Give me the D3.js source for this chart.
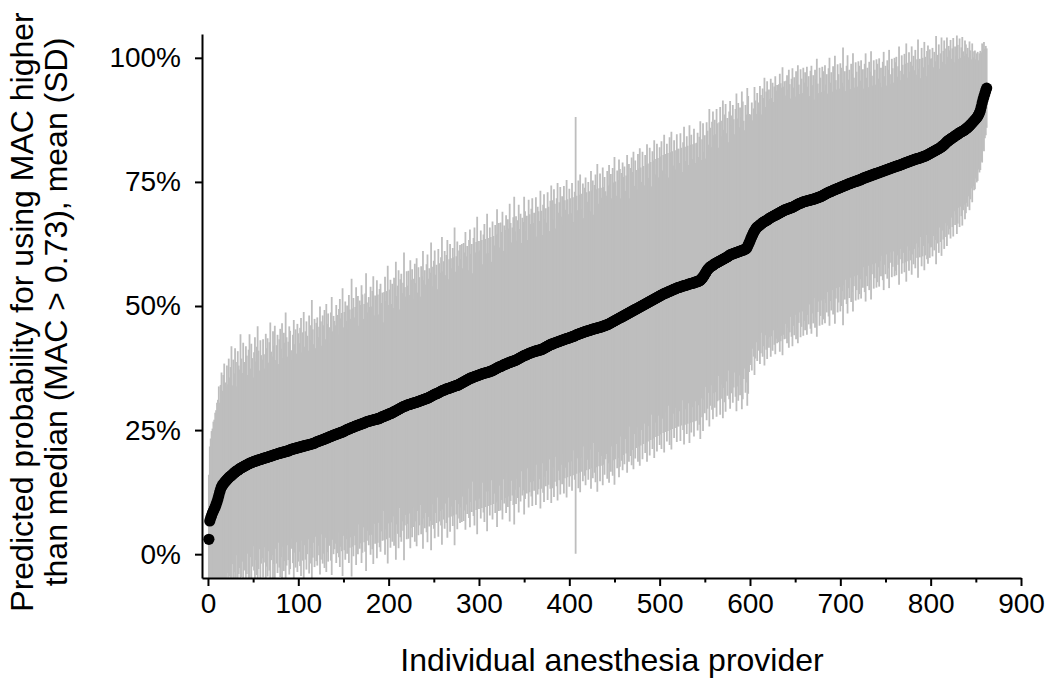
<!DOCTYPE html>
<html><head><meta charset="utf-8">
<script src="https://cdn.jsdelivr.net/npm/d3@7"></script>
<style>body{margin:0;background:#fff} text{font-family:Arial,"Liberation Sans",sans-serif;fill:#000}</style>
</head><body><svg id="c" width="1050" height="679"></svg>
<script>
// Mean predicted probability (%) for each provider, sorted ascending (providers 1..862)
const meanPct = [
3.0,6.7,7.3,7.8,8.3,8.7,9.1,9.5,10.0,10.5,11.1,11.8,12.5,13.1,13.6,13.9,14.1,14.4,14.6,14.8,
15.0,15.2,15.4,15.6,15.7,15.9,16.0,16.2,
16.4,16.5,16.7,16.8,16.9,17.0,17.2,
17.3,17.4,17.5,17.6,17.7,17.8,17.9,18.0,18.1,18.2,18.3,18.4,18.4,18.5,18.6,
18.7,18.7,18.8,18.8,18.9,19.0,19.0,19.1,19.1,19.2,19.3,19.3,19.4,19.4,19.5,19.5,19.6,19.7,19.7,19.8,
19.8,19.9,20.0,20.0,20.1,20.1,20.2,20.3,20.3,20.4,20.4,20.5,20.5,20.6,20.6,20.7,20.7,20.8,20.8,20.9,21.0,
21.1,21.1,21.2,21.2,21.3,21.3,21.4,21.4,21.5,21.5,21.6,21.6,21.7,21.7,21.8,21.8,21.9,21.9,22.0,22.0,22.1,22.1,22.2,22.2,22.3,22.3,22.4,22.5,22.6,
22.7,22.7,22.8,22.9,22.9,23.0,23.1,23.1,23.2,23.3,23.4,23.4,23.5,23.6,23.7,23.7,23.8,23.9,24.0,24.0,24.1,24.2,24.2,24.3,24.4,24.4,24.5,24.6,24.6,24.7,
24.8,24.9,25.0,25.1,25.2,25.2,25.3,25.4,25.5,25.5,25.6,25.7,25.8,25.8,25.9,26.0,26.0,26.1,26.2,26.2,26.3,26.4,26.4,26.5,26.6,26.7,
26.7,26.8,26.8,26.9,26.9,27.0,27.0,27.1,27.1,27.2,27.2,27.3,27.3,27.4,
27.5,27.6,27.7,27.7,27.8,27.9,28.0,28.0,28.1,28.2,28.3,28.3,28.4,28.5,28.6,28.7,28.8,28.9,29.0,
29.1,29.2,29.3,29.4,29.5,29.6,29.7,29.8,29.8,29.9,30.0,
30.1,30.1,30.2,30.2,30.3,30.4,30.4,30.5,30.5,30.6,30.6,30.7,30.8,30.8,30.9,31.0,31.0,31.1,31.2,31.2,31.3,31.4,31.4,31.5,31.6,31.7,31.8,31.9,32.0,
32.1,32.2,32.3,32.3,32.4,32.5,32.6,32.7,32.8,32.9,33.0,33.0,33.1,33.2,33.3,33.3,33.4,33.4,33.5,33.6,33.6,33.7,33.8,33.8,33.9,34.0,34.0,34.1,34.2,34.3,34.4,34.5,34.6,34.7,
34.8,34.9,35.0,35.1,35.2,35.3,35.4,35.5,35.5,35.6,35.7,35.8,35.8,35.9,36.0,36.0,36.1,36.2,36.2,36.3,36.4,36.4,36.5,36.5,36.6,36.6,36.7,36.7,36.8,36.9,36.9,37.0,37.1,
37.2,37.3,37.4,37.5,37.6,37.7,37.8,37.8,37.9,38.0,38.1,38.2,38.3,38.3,38.4,38.5,38.6,38.6,38.7,38.8,38.8,38.9,39.0,39.0,39.1,39.2,39.3,39.4,39.5,
39.6,39.7,39.8,39.9,40.0,40.1,40.1,40.2,40.3,40.4,40.5,40.5,40.6,40.7,40.7,40.8,40.9,40.9,41.0,41.0,41.1,41.1,41.2,41.2,41.3,41.4,41.5,41.6,41.7,41.8,
41.9,42.0,42.1,42.2,42.3,42.3,42.4,42.5,42.6,42.6,42.7,42.8,42.8,42.9,43.0,43.0,43.1,43.2,43.2,43.3,43.4,43.4,43.5,43.5,43.6,43.7,43.7,43.8,43.9,43.9,44.0,44.1,44.2,
44.3,44.3,44.4,44.5,44.5,44.6,44.7,44.7,44.8,44.9,44.9,45.0,45.0,45.1,45.1,45.2,45.3,45.3,45.4,45.4,45.5,45.5,45.6,45.6,45.7,45.7,45.8,45.8,45.9,46.0,46.0,46.1,46.2,46.2,46.3,46.4,46.5,
46.6,46.7,46.8,46.9,47.0,47.1,47.2,47.3,47.4,47.5,47.6,47.7,47.8,47.9,48.0,48.1,48.2,48.3,48.4,48.5,48.6,48.7,48.8,48.9,49.0,49.1,49.2,49.3,49.4,49.5,49.6,49.7,49.8,49.9,50.0,50.1,50.2,
50.3,50.4,50.5,50.6,50.7,50.8,50.9,51.0,51.1,51.2,51.3,51.4,51.5,51.6,51.7,51.8,51.9,52.0,52.1,52.2,52.3,52.4,52.5,52.6,52.6,52.7,52.8,52.9,53.0,53.0,53.1,53.2,53.3,53.4,53.4,53.5,53.6,
53.7,53.7,53.8,53.8,53.9,54.0,54.0,54.1,54.1,54.2,54.2,54.3,54.4,54.4,54.5,54.5,54.6,54.6,54.7,54.8,54.8,54.9,54.9,55.0,55.1,55.2,
55.4,55.6,55.8,56.1,56.4,56.7,57.0,57.3,57.5,57.7,57.9,
58.0,58.1,58.2,58.4,58.5,58.6,58.7,58.8,58.9,59.0,59.1,59.2,59.3,59.4,59.5,59.6,59.7,59.8,59.9,60.0,60.2,60.3,
60.4,60.4,60.5,60.6,60.6,60.7,60.8,60.8,60.9,61.0,61.0,61.1,61.2,61.2,61.3,61.4,61.5,61.6,
61.9,62.3,62.7,63.1,63.6,64.0,64.4,64.8,65.1,65.4,65.7,
65.9,66.0,66.2,66.3,66.5,66.6,66.8,66.9,67.0,67.1,67.2,67.3,67.4,67.6,67.7,
67.8,67.9,68.0,68.1,68.2,68.3,68.4,68.5,68.6,68.7,68.8,68.9,69.0,69.1,69.2,69.3,69.4,69.4,69.5,69.6,69.6,69.7,69.8,69.8,69.9,70.0,
70.1,70.2,70.3,70.4,70.5,70.6,70.7,70.7,70.8,70.9,71.0,71.0,71.1,71.1,71.2,71.2,71.3,71.3,71.4,71.4,71.5,71.5,71.6,71.6,71.7,71.8,71.8,71.9,72.0,72.0,72.1,72.2,72.3,72.4,72.5,72.6,72.7,
72.8,72.9,73.0,73.0,73.1,73.2,73.3,73.4,73.4,73.5,73.6,73.7,73.7,73.8,73.9,74.0,74.0,74.1,74.2,74.3,74.3,74.4,74.5,74.6,74.6,74.7,74.8,74.8,74.9,75.0,75.0,75.1,75.2,75.2,75.3,75.4,75.4,75.5,75.6,75.7,
75.8,75.8,75.9,76.0,76.0,76.1,76.2,76.2,76.3,76.4,76.4,76.5,76.6,76.6,76.7,76.8,76.8,76.9,77.0,77.0,77.1,77.2,77.2,77.3,77.4,77.4,77.5,77.6,77.6,77.7,77.8,77.8,77.9,78.0,78.0,78.1,78.2,78.2,78.3,78.3,78.4,
78.5,78.5,78.6,78.7,78.8,78.8,78.9,79.0,79.0,79.1,79.2,79.2,79.3,79.4,79.4,79.5,79.6,79.6,79.7,79.7,79.8,79.8,79.9,80.0,80.0,80.1,80.2,80.2,80.3,80.4,
80.5,80.6,80.7,80.8,80.9,81.0,81.1,81.2,81.3,81.4,81.5,81.6,81.7,81.8,81.9,82.1,82.2,82.4,82.5,82.7,82.9,83.1,
83.2,83.4,83.5,83.6,83.8,83.9,84.0,84.1,84.3,84.4,84.5,84.6,84.8,84.9,85.0,85.1,85.2,85.3,85.4,85.5,85.7,85.8,
86.0,86.1,86.3,86.5,86.7,86.9,87.1,87.3,87.5,87.7,87.9,88.2,88.5,
88.9,89.4,90.1,90.9,91.6,92.2,92.8,93.4,93.9
];
// Standard deviation (%) for each provider, same order
const sdPct = [
13,15,16,17,17,18,18,19,19,20,20,22,18,21,23,19,22,24,20,19,
23,19,24,20,22,26,18,23,20,25,22,17,24,21,20,27,22,19,25,21,
20,24,22,18,23,26,19,24,21,17,22,25,20,23,27,22,18,24,21,20,
24,21,18,25,22,24,19,23,27,21,20,25,22,26,19,22,24,18,23,25,
21,26,19,24,22,28,23,19,22,25,24,20,18,23,26,21,24,19,25,23,
21,24,26,19,23,27,20,23,25,22,19,26,24,21,29,23,20,25,19,24,
25,21,23,27,24,19,25,23,26,20,27,23,25,19,22,25,28,21,24,23,
22,26,24,20,25,27,23,24,29,21,24,26,22,25,20,27,24,22,30,24,
26,22,24,28,23,26,20,25,24,28,26,21,24,26,30,24,22,25,23,27,
23,26,29,21,25,24,28,25,21,26,27,23,25,19,25,28,23,25,30,22,
25,27,22,26,21,27,25,30,23,25,28,20,26,27,23,25,31,24,22,27,
24,27,22,29,25,27,21,25,28,24,29,22,27,25,21,27,25,30,24,26,
23,27,29,24,26,25,31,26,22,27,29,24,26,21,29,26,24,27,31,24,
26,28,23,27,30,22,26,29,26,24,28,26,32,23,26,29,24,27,28,25,
28,23,28,26,30,25,27,22,28,30,25,27,21,28,30,25,27,32,25,27,
25,29,27,22,28,30,27,24,32,27,24,29,27,22,30,27,25,29,27,32,
27,29,24,29,27,31,23,28,27,30,22,29,27,32,28,24,27,29,33,26,
29,24,28,31,26,29,23,28,27,32,29,25,28,23,31,28,26,29,31,26,
28,25,31,23,29,28,26,32,28,23,29,31,26,28,25,31,28,23,29,32,
29,25,31,28,23,29,32,26,28,31,25,29,23,31,28,26,32,28,25,30,
28,25,31,28,23,29,44,28,25,31,28,32,25,28,30,23,29,31,28,26,
30,28,24,32,28,30,23,29,31,28,33,25,28,31,28,26,32,28,30,27,
26,31,28,32,28,30,25,31,28,33,28,25,30,28,32,30,24,29,31,28,
30,25,28,32,28,30,23,29,31,28,32,25,30,28,24,31,28,32,28,25,
31,28,24,30,28,32,28,25,31,28,23,30,28,32,25,28,31,28,24,30,
28,31,25,28,32,28,24,30,28,23,31,28,32,28,25,30,28,24,31,28,
28,25,31,28,23,29,32,28,25,30,28,24,32,28,30,25,28,31,28,24,
28,30,25,29,32,24,28,31,25,28,23,30,28,25,32,28,24,29,31,26,
29,26,31,28,23,28,31,25,28,32,26,29,31,25,28,23,29,31,26,28,
30,27,24,29,32,27,30,25,29,27,32,30,26,24,29,27,32,30,26,25,
25,27,23,25,29,26,23,27,25,23,28,26,22,27,25,29,23,26,28,24,
26,24,28,24,27,23,26,28,25,26,23,26,28,26,25,29,25,26,23,26,
27,24,28,25,22,26,28,24,26,22,27,25,28,24,22,27,25,22,27,24,
26,22,27,23,25,21,26,27,23,25,20,26,24,28,23,21,26,24,21,26,
25,21,26,22,24,20,25,27,22,24,20,25,23,27,22,20,25,23,20,25,
24,21,28,20,23,19,24,26,21,23,19,24,22,26,21,19,24,22,19,24,
23,20,24,19,22,18,23,25,20,22,18,23,21,25,20,18,23,21,18,23,
22,19,23,18,21,17,22,24,19,21,17,22,20,24,19,17,22,20,17,22,
21,22,18,20,24,19,17,22,20,18,22,20,24,17,20,22,18,20,23,19,
21,18,22,17,20,24,18,20,16,22,20,18,23,20,16,21,22,18,21,19,
19,21,17,20,18,23,17,19,21,16,19,22,17,19,21,16,19,21,17,19,
18,20,16,18,20,15,18,16,20,18,15,19,15,17,19,16,15,18,17,15,
16,14,17,15,13,16,13,14,14,12,13,13,11,12,12,11,12,10,11,9,
9,8
];
const xTicks = [0,100,200,300,400,500,600,700,800,900];
const xMinorTicks = [50,150,250,350,450,550,650,750,850];
const yTicks = [0,0.25,0.5,0.75,1];
const yTickLabels = ["0%","25%","50%","75%","100%"];
const xTitle = "Individual anesthesia provider";
const yTitleLines = ["Predicted probability for using MAC higher","than median (MAC > 0.73), mean (SD)"];

const svg = d3.select("#c");
const x = d3.scaleLinear().domain([-6.6, 900]).range([202, 1021]);
const y = d3.scaleLinear().domain([-0.048, 1.048]).range([578, 34]);

const data = meanPct.map((m, i) => ({
  idx: i + 1,
  mean: m / 100,
  sd: (i < sdPct.length ? sdPct[i] : sdPct[sdPct.length - 1]) / 100
}));

svg.append("defs").append("clipPath").attr("id", "clip")
  .append("rect").attr("x", 202).attr("y", 34).attr("width", 840).attr("height", 544);

// SD bars
svg.append("g").attr("clip-path", "url(#clip)")
  .selectAll("line").data(data).join("line")
  .attr("x1", d => x(d.idx)).attr("x2", d => x(d.idx))
  .attr("y1", d => y(d.mean - d.sd)).attr("y2", d => y(d.mean + d.sd))
  .attr("stroke", "#bebebe").attr("stroke-width", 1.8);

// mean points
svg.append("g").selectAll("circle").data(data).join("circle")
  .attr("cx", d => x(d.idx)).attr("cy", d => y(d.mean))
  .attr("r", 5.6).attr("fill", "#000");

// axes
const yAxis = svg.append("g").attr("transform", "translate(202,0)")
  .call(d3.axisLeft(y).tickValues(yTicks).tickFormat((d, i) => yTickLabels[i])
    .tickSize(7).tickSizeOuter(0).tickPadding(14));
const xAxis = svg.append("g").attr("transform", "translate(0,578)")
  .call(d3.axisBottom(x).tickValues(xTicks).tickFormat(d3.format("d"))
    .tickSize(8).tickSizeOuter(0).tickPadding(7));
const xMinor = svg.append("g").attr("transform", "translate(0,578)")
  .call(d3.axisBottom(x).tickValues(xMinorTicks).tickFormat("").tickSize(4.5).tickSizeOuter(0));
xMinor.select(".domain").remove();

[yAxis, xAxis, xMinor].forEach(g => {
  g.selectAll("path,line").attr("stroke", "#000").attr("stroke-width", 2);
  g.selectAll("text").attr("font-size", 28).attr("fill", "#000")
    .style("font-family", "Arial, 'Liberation Sans', sans-serif");
});

// titles
svg.append("text").attr("x", 612).attr("y", 671).attr("text-anchor", "middle")
  .attr("font-size", 32).text(xTitle);
const yt = [33, 67];
yTitleLines.forEach((t, i) => {
  svg.append("text").attr("transform", `translate(${yt[i]},312) rotate(-90)`)
    .attr("text-anchor", "middle").attr("font-size", 32).text(t);
});
</script>
</body></html>
